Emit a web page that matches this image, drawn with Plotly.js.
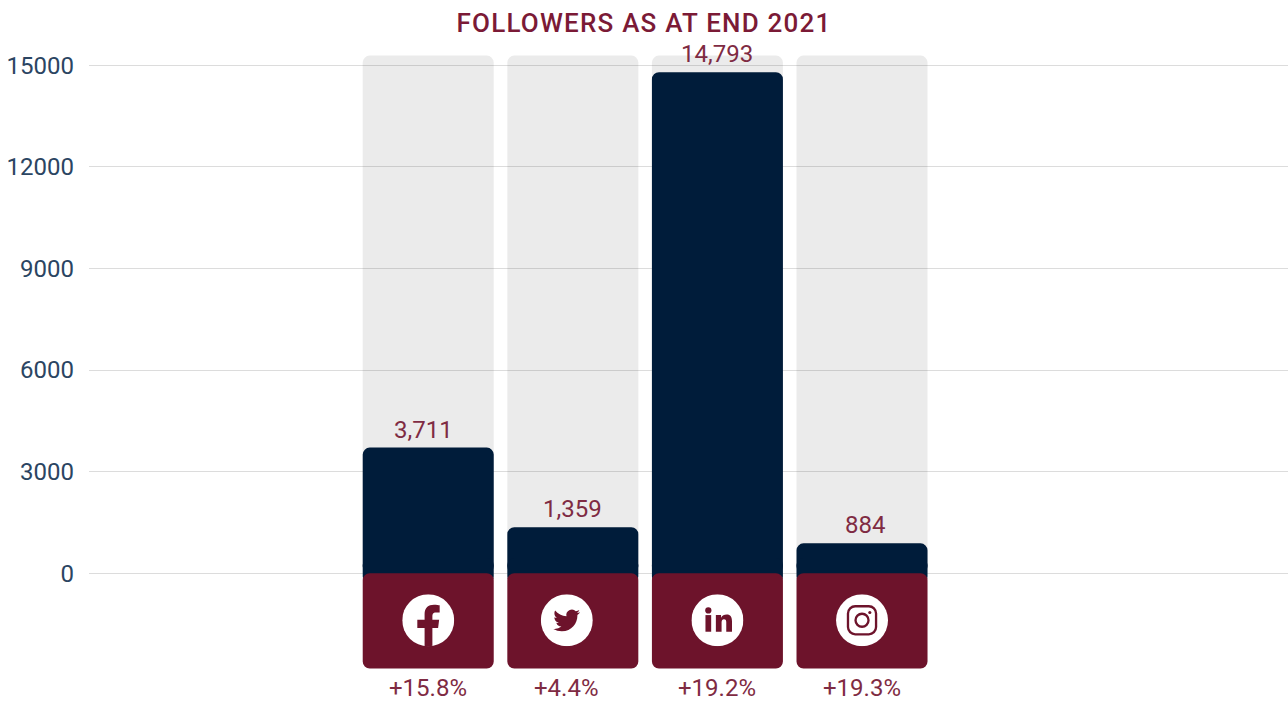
<!DOCTYPE html>
<html>
<head>
<meta charset="utf-8">
<script src="https://cdn.plot.ly/plotly-3.0.1.min.js"></script>
<style>
html,body{margin:0;padding:0;background:#fff}
#chart{width:1288px;height:702px}
.gtitle{letter-spacing:1.2px}
</style>
</head>
<body>
<div id="chart"></div>
<script>
// Followers per network at the end of 2021, with the year-on-year change
const networks = ['Facebook', 'Twitter', 'LinkedIn', 'Instagram'];
const followers = [3711, 1359, 14793, 884];
const growth = ['+15.8%', '+4.4%', '+19.2%', '+19.3%'];
const yTicks = [0, 3000, 6000, 9000, 12000, 15000];
const trackTop = 15285;     // height of the pale track behind each bar
const badgeDepth = -2810;   // lower edge of the icon badge
const iconCentre = -1388;

const navy = '#001c3a', maroon = '#6d132b', labelRed = '#7f2b43', titleRed = '#7b1a36', tickBlue = '#2b4562';
const font = 'Roboto, sans-serif';

const FB = '<path fill="#6d132b" d="M43 101V65H29V49H43V38C43 26 50 20 61 20C66 20 70 21 72 21V35H65C59 35 58 38 58 43V49H71L69 65H58V101Z"/>';
const TW = '<g transform="translate(24 24.5) scale(2.15)"><path fill="#6d132b" d="M23.953 4.57a10 10 0 01-2.825.775 4.958 4.958 0 002.163-2.723c-.951.555-2.005.959-3.127 1.184a4.92 4.92 0 00-8.384 4.482C7.69 8.095 4.067 6.13 1.64 3.162a4.822 4.822 0 00-.666 2.475c0 1.71.87 3.213 2.188 4.096a4.904 4.904 0 01-2.228-.616v.06a4.923 4.923 0 003.946 4.827 4.996 4.996 0 01-2.212.085 4.936 4.936 0 004.604 3.417 9.867 9.867 0 01-6.102 2.105c-.39 0-.779-.023-1.17-.067a13.995 13.995 0 007.557 2.209c9.053 0 13.998-7.496 13.998-13.985 0-.21 0-.42-.015-.63A9.935 9.935 0 0024 4.59z"/></g>';
const LI = '<g fill="#6d132b"><circle cx="32.5" cy="31" r="6"/><rect x="27" y="40" width="11" height="32"/><path d="M47 40H57V45C59 41 63 39 68 39C75 39 78 44 78 52V72H67V54C67 50 66 48 62.500 48C60 48 58 50 58 54V72H47Z"/></g>';
const IG = '<g fill="none" stroke="#6d132b" stroke-width="4.500"><rect x="23" y="23" width="54" height="54" rx="14"/><circle cx="50" cy="50" r="12.500"/></g><circle cx="65" cy="35" r="3" fill="#6d132b"/>';
const glyphs = [FB, TW, LI, IG];
// The Twitter icon and its figure sit a little left of the bar centre
const pxPerSlot = 144.6, pxPerUnit = 624 / 18425;
const nudgePx = [0, -6, 0, 0];
const valueNudgePx = [-4.5, 0, 0, 3];

function icon(inner) {
  const svg = '<svg xmlns="http://www.w3.org/2000/svg" width="200" height="200" viewBox="0 0 100 100">' +
    '<defs><clipPath id="c"><circle cx="50" cy="50" r="50"/></clipPath></defs>' +
    '<circle cx="50" cy="50" r="50" fill="#fff"/><g clip-path="url(#c)">' + inner + '</g></svg>';
  return 'data:image/svg+xml;base64,' + btoa(svg);
}

const barWidth = 0.906;
const base = {type: 'bar', x: networks, width: barWidth, hoverinfo: 'skip', showlegend: false};
const traces = [
  Object.assign({}, base, {y: networks.map(() => trackTop), marker: {color: 'rgba(60,60,60,0.1)'}}),
  // an explicit base makes Plotly round this bar even though a taller one shares its slot
  Object.assign({}, base, {y: followers, base: networks.map(() => 0), marker: {color: navy}, hoverinfo: 'x+y'}),
  // short navy stem so the badge's rounded top corners show navy behind them
  Object.assign({}, base, {y: networks.map(() => 750), base: networks.map(() => -300), marker: {color: navy}}),
  // the badge: a based bar has all four corners rounded
  Object.assign({}, base, {y: networks.map(() => -badgeDepth), base: networks.map(() => badgeDepth), marker: {color: maroon}})
];

const valueLabels = networks.map((n, i) => ({
  x: i, y: followers[i], xref: 'x', yref: 'y', yanchor: 'bottom', yshift: 2, xshift: valueNudgePx[i], showarrow: false,
  text: followers[i].toLocaleString('en-US'),
  font: {family: font, size: 24, color: labelRed}
}));
const growthLabels = networks.map((n, i) => ({
  x: i, y: badgeDepth, xref: 'x', yref: 'y', yanchor: 'top', yshift: -4, xshift: nudgePx[i], showarrow: false,
  text: growth[i],
  font: {family: font, size: 24, color: labelRed}
}));

const images = networks.map((n, i) => ({
  source: icon(glyphs[i]), xref: 'x', yref: 'y',
  x: i + nudgePx[i] / pxPerSlot, y: iconCentre,
  sizex: 52 / pxPerSlot, sizey: 52 / pxPerUnit,
  xanchor: 'center', yanchor: 'middle', sizing: 'contain', layer: 'above'
}));

const layout = {
  width: 1288, height: 702,
  margin: {l: 89, r: 0, t: 50, b: 28, pad: 0},
  paper_bgcolor: '#fff', plot_bgcolor: '#fff',
  barmode: 'overlay', barcornerradius: 7,
  showlegend: false,
  title: {
    text: 'FOLLOWERS AS AT END 2021',
    x: 0.5, xref: 'container', xanchor: 'center', y: 0.967, yref: 'container', yanchor: 'middle',
    font: {family: font, size: 26, weight: 500, color: titleRed}
  },
  xaxis: {type: 'category', categoryorder: 'array', categoryarray: networks,
          range: [-2.346, 5.946], visible: false, fixedrange: true},
  yaxis: {range: [-2974, 15451], tickmode: 'array', tickvals: yTicks, tickformat: 'd',
          showgrid: true, gridcolor: '#dcdcdc', gridwidth: 1, zeroline: false, showline: false,
          ticks: '', ticklabelstandoff: 14, fixedrange: true,
          tickfont: {family: font, size: 24, color: tickBlue}},
  annotations: valueLabels.concat(growthLabels),
  images: images
};

Plotly.newPlot('chart', traces, layout, {displayModeBar: false, responsive: false});
</script>
</body>
</html>
